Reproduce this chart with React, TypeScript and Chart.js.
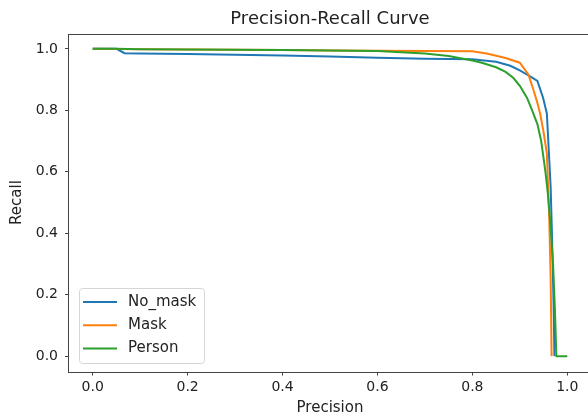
import React, { useEffect, useRef } from "react";
import { Chart, registerables } from "chart.js";

Chart.register(...registerables);

const chartTitle = "Precision-Recall Curve";
const xAxisTitle = "Precision";
const yAxisTitle = "Recall";

const seriesNames = ["No_mask", "Mask", "Person"];
const seriesColors = ["#1f77b4", "#ff7f0e", "#2ca02c"];

const noMaskPrecision = [0, 0.05, 0.067, 0.1, 0.2, 0.3, 0.4, 0.5, 0.6, 0.7, 0.8, 0.85, 0.88, 0.9, 0.92, 0.937, 0.949, 0.957, 0.961, 0.965, 0.968, 0.971, 0.973];
const noMaskRecall = [1.0, 1.0, 0.986, 0.985, 0.983, 0.981, 0.978, 0.975, 0.971, 0.968, 0.966, 0.958, 0.945, 0.93, 0.912, 0.896, 0.841, 0.79, 0.67, 0.55, 0.38, 0.18, 0.0];

const maskPrecision = [0, 0.1, 0.2, 0.3, 0.4, 0.5, 0.6, 0.7, 0.8, 0.83, 0.87, 0.9, 0.918, 0.928, 0.936, 0.943, 0.95, 0.957, 0.962, 0.965, 0.967];
const maskRecall = [1.0, 0.999, 0.998, 0.997, 0.996, 0.995, 0.994, 0.993, 0.992, 0.985, 0.97, 0.955, 0.917, 0.87, 0.83, 0.788, 0.73, 0.66, 0.45, 0.25, 0.0];

const personPrecision = [0, 0.05, 0.1, 0.2, 0.3, 0.4, 0.5, 0.6, 0.7, 0.75, 0.8, 0.82, 0.85, 0.87, 0.886, 0.9, 0.915, 0.926, 0.937, 0.945, 0.954, 0.959, 0.964, 0.97, 0.974, 0.977, 1.0];
const personRecall = [1.0, 1.0, 0.999, 0.998, 0.997, 0.996, 0.995, 0.993, 0.985, 0.977, 0.962, 0.955, 0.94, 0.925, 0.906, 0.88, 0.841, 0.8, 0.755, 0.7, 0.6, 0.53, 0.44, 0.3, 0.15, 0.0, 0.0];

const xTickValues = [0, 0.2, 0.4, 0.6, 0.8, 1.0];
const yTickValues = [0, 0.2, 0.4, 0.6, 0.8, 1.0];

const FONT = "'DejaVu Sans', sans-serif";

function toPoints(xs: number[], ys: number[]) {
  return xs.map((x, i) => ({ x, y: ys[i] }));
}

const framePlugin = {
  id: "frame",
  afterDraw(chart: any) {
    const { ctx, chartArea } = chart;
    ctx.save();
    ctx.strokeStyle = "#444";
    ctx.lineWidth = 1;
    ctx.strokeRect(
      Math.round(chartArea.left) - 0.5,
      Math.round(chartArea.top) + 0.5,
      Math.round(chartArea.right - chartArea.left),
      Math.round(chartArea.bottom - chartArea.top)
    );
    ctx.restore();
  },
};

const titlePlugin = {
  id: "axesTitle",
  afterDraw(chart: any) {
    const { ctx, chartArea } = chart;
    ctx.save();
    ctx.font = `18px ${FONT}`;
    ctx.fillStyle = "#222";
    ctx.textAlign = "center";
    ctx.textBaseline = "middle";
    ctx.fillText(chartTitle, (chartArea.left + chartArea.right) / 2, 19.5);
    ctx.restore();
  },
};

const legendPlugin = {
  id: "boxLegend",
  afterDraw(chart: any) {
    const { ctx, chartArea } = chart;
    const datasets = chart.data.datasets;
    const boxLeft = chartArea.left + 10;
    const boxW = 125;
    const rowH = 23.3;
    const boxH = 75;
    const boxTop = chartArea.bottom - 8.5 - boxH;
    ctx.save();
    ctx.beginPath();
    const r = 3;
    const x = boxLeft + 0.5;
    const y = Math.round(boxTop) + 0.5;
    ctx.moveTo(x + r, y);
    ctx.lineTo(x + boxW - r, y);
    ctx.quadraticCurveTo(x + boxW, y, x + boxW, y + r);
    ctx.lineTo(x + boxW, y + boxH - r);
    ctx.quadraticCurveTo(x + boxW, y + boxH, x + boxW - r, y + boxH);
    ctx.lineTo(x + r, y + boxH);
    ctx.quadraticCurveTo(x, y + boxH, x, y + boxH - r);
    ctx.lineTo(x, y + r);
    ctx.quadraticCurveTo(x, y, x + r, y);
    ctx.closePath();
    ctx.fillStyle = "rgba(255,255,255,0.8)";
    ctx.fill();
    ctx.strokeStyle = "#d6d6d6";
    ctx.lineWidth = 1;
    ctx.stroke();
    ctx.font = `15px ${FONT}`;
    ctx.textBaseline = "middle";
    ctx.textAlign = "left";
    datasets.forEach((ds: any, i: number) => {
      const cy = boxTop + 14 + i * rowH;
      ctx.beginPath();
      ctx.strokeStyle = ds.borderColor;
      ctx.lineWidth = 2;
      ctx.moveTo(boxLeft + 4, cy);
      ctx.lineTo(boxLeft + 38, cy);
      ctx.stroke();
      ctx.fillStyle = "#222";
      ctx.fillText(ds.label, boxLeft + 49, cy);
    });
    ctx.restore();
  },
};

export default function App() {
  const canvasRef = useRef<HTMLCanvasElement | null>(null);

  useEffect(() => {
    if (!canvasRef.current) return;
    const xs = [noMaskPrecision, maskPrecision, personPrecision];
    const ys = [noMaskRecall, maskRecall, personRecall];
    const chart = new Chart(canvasRef.current, {
      type: "line",
      data: {
        datasets: seriesNames.map((name, i) => ({
          label: name,
          data: toPoints(xs[i], ys[i]),
          borderColor: seriesColors[i],
          backgroundColor: seriesColors[i],
          borderWidth: 2,
          pointRadius: 0,
          tension: 0,
          fill: false,
          order: seriesNames.length - 1 - i,
        })),
      },
      options: {
        responsive: false,
        animation: false,
        devicePixelRatio: 1,
        layout: { padding: { left: 0, right: 9, top: 33.5, bottom: 0 } },
        plugins: {
          legend: { display: false },
          tooltip: { enabled: false },
          title: { display: false },
        },
        scales: {
          x: {
            type: "linear",
            min: -0.05,
            max: 1.05,
            afterBuildTicks: (scale: any) => {
              scale.ticks = xTickValues.map((v) => ({ value: v }));
            },
            afterFit: (scale: any) => {
              scale.height = 47.5;
            },
            ticks: {
              color: "#222",
              font: { family: FONT, size: 14 },
              padding: 3,
              maxRotation: 0,
              callback: (v: any) => Number(v).toFixed(1),
            },
            grid: { display: true, drawOnChartArea: false, drawTicks: true, tickLength: 4, color: "#444" },
            border: { display: false },
            title: {
              display: true,
              text: xAxisTitle,
              color: "#222",
              font: { family: FONT, size: 15 },
              padding: { top: 0, bottom: 1.5 },
            },
          },
          y: {
            type: "linear",
            min: -0.05,
            max: 1.05,
            afterBuildTicks: (scale: any) => {
              scale.ticks = yTickValues.map((v) => ({ value: v }));
            },
            afterFit: (scale: any) => {
              scale.width = 69;
            },
            ticks: {
              color: "#222",
              font: { family: FONT, size: 14 },
              padding: 7,
              callback: (v: any) => Number(v).toFixed(1),
            },
            grid: { display: true, drawOnChartArea: false, drawTicks: true, tickLength: 4, color: "#444" },
            border: { display: false },
            title: {
              display: true,
              text: yAxisTitle,
              color: "#222",
              font: { family: FONT, size: 15 },
              padding: { top: 8.5, bottom: 0 },
            },
          },
        },
      },
      plugins: [framePlugin, titlePlugin, legendPlugin],
    });
    return () => chart.destroy();
  }, []);

  return (
    <div style={{ position: "absolute", left: 0, top: 0, width: 588, height: 419, overflow: "hidden", background: "#fff" }}>
      <canvas ref={canvasRef} width={600} height={419} style={{ display: "block", width: 600, height: 419 }} />
    </div>
  );
}
